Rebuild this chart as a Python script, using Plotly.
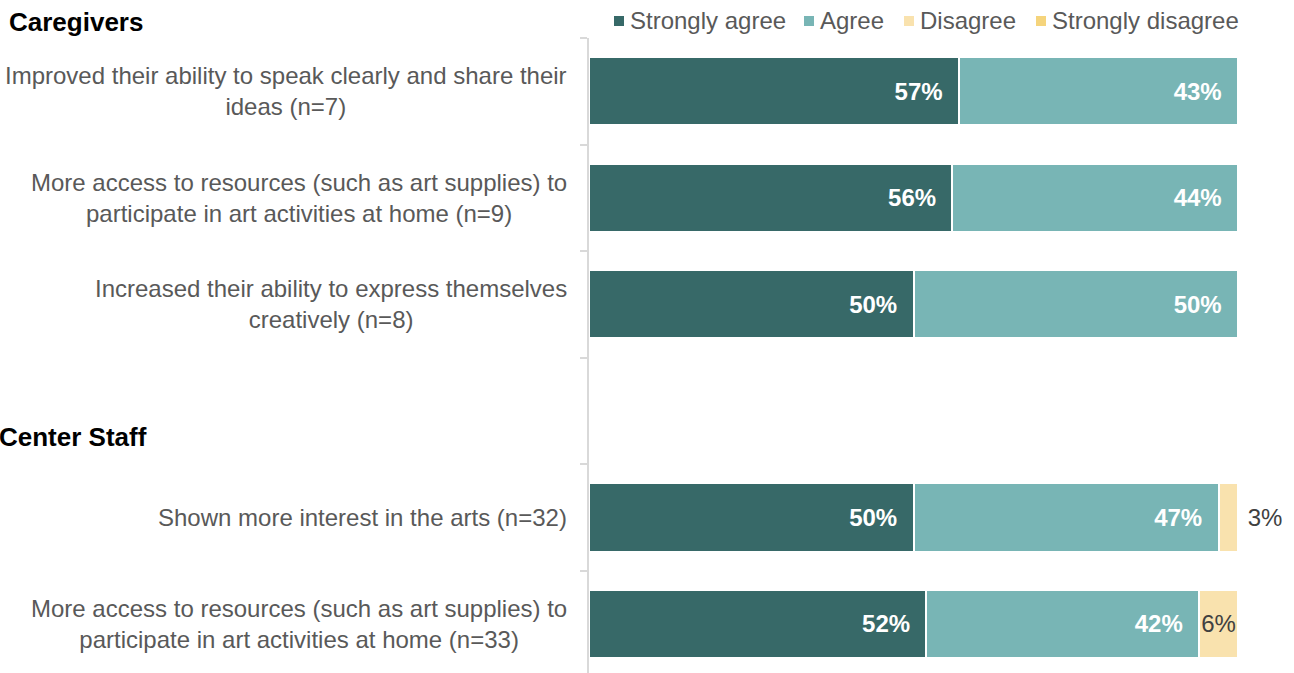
import plotly.graph_objects as go

# Survey items (rows) in display order, grouped by respondent type
caregiver_items = [
    "Improved their ability to speak clearly and share their<br>ideas (n=7)",
    "More access to resources (such as art supplies) to<br>participate in art activities at home (n=9)",
    "Increased their ability to express themselves<br>creatively (n=8)",
]
staff_items = [
    "Shown more interest in the arts (n=32)",
    "More access to resources (such as art supplies) to<br>participate in art activities at home (n=33)",
]
group_titles = ["Caregivers", "Center Staff"]
spacer = " "

items = caregiver_items + staff_items

# Percent of respondents per response level
strongly_agree = [57, 56, 50, 50, 52]
agree = [43, 44, 50, 47, 42]
disagree = [0, 0, 0, 3, 6]
strongly_disagree = [0, 0, 0, 0, 0]

series_names = ["Strongly agree", "Agree", "Disagree", "Strongly disagree"]
series_colors = ["#376968", "#78B5B5", "#F9E2AE", "#F5D47C"]

FONT = "Arial, 'Liberation Sans', sans-serif"
GRAY = "#595959"
DARK = "#404040"

# Geometry of the plotting area (pixels)
W, H = 1294, 673
L, R, T, B = 589, 56, 38, 0
PW, PH = W - L - R, H - T - B


def px_to_paper_x(px):
    return (px - L) / PW


def px_to_paper_y(py):
    return 1 - (py - T) / PH


category_order = caregiver_items + [spacer] + staff_items

fig = go.Figure()

NBSP = "\u00a0"

fig.add_trace(go.Bar(
    name=series_names[0], y=items, x=strongly_agree, orientation="h",
    marker=dict(color=series_colors[0], line=dict(color="white", width=2)),
    text=[f"{v}%{NBSP}{NBSP}" for v in strongly_agree],
    textposition="inside", insidetextanchor="end", textangle=0,
    textfont=dict(family=FONT, size=24, color="white", weight="bold"),
    constraintext="none", cliponaxis=False, hoverinfo="skip", showlegend=False,
))
fig.add_trace(go.Bar(
    name=series_names[1], y=items, x=agree, orientation="h",
    marker=dict(color=series_colors[1], line=dict(color="white", width=2)),
    text=[f"{v}%{NBSP}{NBSP}" for v in agree],
    textposition="inside", insidetextanchor="end", textangle=0,
    textfont=dict(family=FONT, size=24, color="white", weight="bold"),
    constraintext="none", cliponaxis=False, hoverinfo="skip", showlegend=False,
))

# Small shares: labels sit outside the bar when the segment is too thin
dis_text, dis_pos = [], []
for v in disagree:
    if v == 0:
        dis_text.append("")
        dis_pos.append("none")
    elif v < 5:
        dis_text.append(f"{NBSP}{v}%")
        dis_pos.append("outside")
    else:
        dis_text.append(f"{v}%")
        dis_pos.append("inside")

fig.add_trace(go.Bar(
    name=series_names[2], y=items, x=disagree, orientation="h",
    marker=dict(color=series_colors[2], line=dict(color="white", width=2)),
    text=dis_text, textposition=dis_pos, insidetextanchor="middle", textangle=0,
    textfont=dict(family=FONT, size=24, color=DARK),
    constraintext="none", cliponaxis=False, hoverinfo="skip", showlegend=False,
))
fig.add_trace(go.Bar(
    name=series_names[3], y=items,
    x=[v if v else None for v in strongly_disagree], orientation="h",
    marker=dict(color=series_colors[3], line=dict(color="white", width=2)),
    hoverinfo="skip", showlegend=False,
))

annotations = []

# Row labels, centred lines, right edge just left of the axis
for item in items:
    annotations.append(dict(
        xref="paper", yref="y", x=0, y=item, xshift=-20,
        xanchor="right", yanchor="middle", align="center",
        text=item, showarrow=False,
        font=dict(family=FONT, size=24, color=GRAY),
    ))

# Group headings
annotations.append(dict(
    xref="paper", yref="paper", x=px_to_paper_x(7), y=px_to_paper_y(22),
    xanchor="left", yanchor="middle", text=f"<b>{group_titles[0]}</b>",
    showarrow=False, font=dict(family=FONT, size=26, color="black"),
))
annotations.append(dict(
    xref="paper", yref="y", x=px_to_paper_x(-3), y=spacer, yshift=-26,
    xanchor="left", yanchor="middle", text=f"<b>{group_titles[1]}</b>",
    showarrow=False, font=dict(family=FONT, size=26, color="black"),
))

# Legend row drawn as square swatches + text
legend_text_px = [628, 818, 918, 1050]
legend_y = px_to_paper_y(21)
shapes = []
for name, color, tx in zip(series_names, series_colors, legend_text_px):
    annotations.append(dict(
        xref="paper", yref="paper", x=px_to_paper_x(tx), y=legend_y,
        xanchor="left", yanchor="middle", text=name, showarrow=False,
        font=dict(family=FONT, size=24, color=GRAY),
    ))
    shapes.append(dict(
        type="rect", xref="paper", yref="paper",
        xsizemode="pixel", ysizemode="pixel",
        xanchor=px_to_paper_x(tx), yanchor=legend_y,
        x0=-14, x1=-4, y0=-5, y1=5,
        fillcolor=color, line=dict(width=0),
    ))

fig.update_layout(
    width=W, height=H,
    margin=dict(l=L, r=R, t=T, b=B, pad=0),
    barmode="stack", bargap=0.36,
    plot_bgcolor="white", paper_bgcolor="white",
    showlegend=False,
    uniformtext=dict(minsize=24, mode="show"),
    font=dict(family=FONT, size=24, color=GRAY),
    xaxis=dict(range=[0, 100], visible=False, fixedrange=True),
    yaxis=dict(
        type="category", categoryorder="array", categoryarray=category_order,
        range=[len(category_order) - 0.54, -0.5],
        showticklabels=False, showgrid=False, zeroline=False,
        showline=True, linecolor="#D9D9D9", linewidth=2,
        ticks="outside", tickson="boundaries", ticklen=7, tickcolor="#D9D9D9",
        tickwidth=1.5, fixedrange=True,
    ),
    annotations=annotations,
    shapes=shapes,
)

fig.write_html("out.html", config={"displayModeBar": False})
